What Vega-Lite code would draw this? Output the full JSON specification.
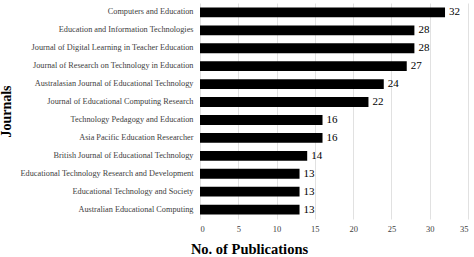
{
  "$schema": "https://vega.github.io/schema/vega-lite/v6.json",
  "width": 268,
  "height": 216,
  "autosize": {"type": "none"},
  "padding": {"left": 200, "top": 3, "right": 6, "bottom": 38},
  "background": "white",
  "config": {"view": {"stroke": null}, "font": "Liberation Serif"},
  "data": {
    "values": [
      {"journal": "Computers and Education", "count": 32},
      {"journal": "Education and Information Technologies", "count": 28},
      {"journal": "Journal of Digital Learning in Teacher Education", "count": 28},
      {"journal": "Journal of Research on Technology in Education", "count": 27},
      {"journal": "Australasian Journal of Educational Technology", "count": 24},
      {"journal": "Journal of Educational Computing Research", "count": 22},
      {"journal": "Technology Pedagogy and Education", "count": 16},
      {"journal": "Asia Pacific Education Researcher", "count": 16},
      {"journal": "British Journal of Educational Technology", "count": 14},
      {"journal": "Educational Technology Research and Development", "count": 13},
      {"journal": "Educational Technology and Society", "count": 13},
      {"journal": "Australian Educational Computing", "count": 13}
    ]
  },
  "encoding": {
    "y": {
      "field": "journal",
      "type": "nominal",
      "sort": null,
      "scale": {"paddingInner": 0.45, "paddingOuter": 0.25},
      "axis": {
        "title": "Journals",
        "titleFont": "Liberation Serif",
        "titleFontSize": 14,
        "titleFontWeight": "bold",
        "titleColor": "#000000",
        "titleX": -187,
        "titleAnchor": "middle",
        "labelFont": "Liberation Serif",
        "labelFontSize": 8.25,
        "labelColor": "#404040",
        "labelPadding": 7,
        "labelLimit": 200,
        "domain": false,
        "ticks": false,
        "grid": false
      }
    },
    "x": {
      "field": "count",
      "type": "quantitative",
      "scale": {"domain": [0, 35], "nice": false},
      "axis": {
        "title": "No. of Publications",
        "titleFont": "Liberation Serif",
        "titleFontSize": 14.5,
        "titleFontWeight": "bold",
        "titleColor": "#000000",
        "titleAnchor": "middle",
        "titleAlign": "center",
        "titleX": 49,
        "titleY": 23,
        "values": [0, 5, 10, 15, 20, 25, 30, 35],
        "labelFont": "Liberation Serif",
        "labelFontSize": 8.5,
        "labelColor": "#404040",
        "labelPadding": 5,
        "domain": false,
        "ticks": false,
        "grid": true,
        "gridColor": "#d9d9d9",
        "gridWidth": 0.8
      }
    }
  },
  "layer": [
    {"mark": {"type": "bar", "color": "#000000"}},
    {
      "mark": {"type": "text", "align": "left", "dx": 4, "font": "Liberation Serif", "fontSize": 11, "color": "#000000"},
      "encoding": {"text": {"field": "count", "type": "quantitative"}}
    }
  ]
}
